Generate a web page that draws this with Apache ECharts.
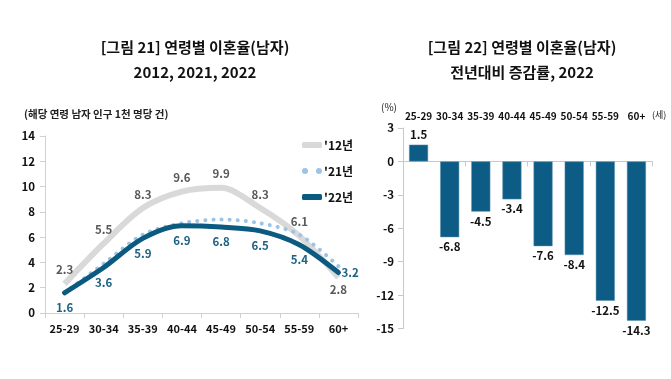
<!DOCTYPE html>
<html>
<head>
<meta charset="utf-8">
<script src="https://cdn.jsdelivr.net/npm/echarts@6/dist/echarts.min.js"></script>
<style>html,body{margin:0;padding:0;background:#fff;}#c{width:671px;height:379px;}</style>
</head>
<body>
<div id="c"></div>
<script>
const categories = ['25-29','30-34','35-39','40-44','45-49','50-54','55-59','60+'];
const rate2012 = [2.3, 5.5, 8.3, 9.6, 9.9, 8.3, 6.1, 2.8];
const rate2021 = [1.6, 3.9, 6.2, 7.1, 7.4, 7.1, 6.2, 3.7];
const rate2022 = [1.6, 3.6, 5.9, 6.9, 6.8, 6.5, 5.4, 3.2];
const change2022 = [1.5, -6.8, -4.5, -3.4, -7.6, -8.4, -12.5, -14.3];
const leftTicks = [0, 14, 2];
const rightTicks = [-15, 3, 3];

const F = '"Noto Sans CJK KR", "Noto Sans", sans-serif';
const chart = echarts.init(document.getElementById('c'));

const d12 = rate2012.map((v, i) => i === 7 ? {value: v, label: {position: 'bottom', distance: 6}} : v);
const d22 = rate2022.map((v, i) => i === 7 ? {value: v, label: {position: 'right', distance: 3}} : v);
const dBar = change2022.map(v => ({value: v, label: {position: v >= 0 ? 'top' : 'bottom'}}));

chart.setOption({
  animation: false,
  textStyle: {fontFamily: F},
  title: [
    {text: '[그림 21] 연령별 이혼율(남자)\n2012, 2021, 2022', left: 190, top: 30, textAlign: 'center',
     textStyle: {fontFamily: F, fontSize: 15, fontWeight: 'bold', color: '#111', lineHeight: 25}},
    {text: '[그림 22] 연령별 이혼율(남자)\n전년대비 증감률, 2022', left: 517, top: 30, textAlign: 'center',
     textStyle: {fontFamily: F, fontSize: 15, fontWeight: 'bold', color: '#111', lineHeight: 25}}
  ],
  graphic: [
    {type: 'text', left: 24, top: 109, style: {text: '(해당 연령 남자 인구 1천 명당 건)', font: 'bold 10.5px ' + F, fill: '#222'}},
    {type: 'text', left: 381, top: 102, style: {text: '(%)', font: '10px ' + F, fill: '#222'}},
    {type: 'text', left: 652, top: 110, style: {text: '(세)', font: '9px ' + F, fill: '#222'}}
  ],
  legend: {
    orient: 'vertical', left: 297, top: 134, itemGap: 14, itemWidth: 20, itemHeight: 6,
    textStyle: {fontFamily: F, fontSize: 12, fontWeight: 'bold', color: '#111', padding: [0, 0, 0, -3]},
    data: [
      {name: "'12년", icon: 'roundRect', itemStyle: {color: '#d9d9d9'}},
      {name: "'21년", icon: 'path://M0,3a3,3 0 1,0 6,0a3,3 0 1,0 -6,0z M14,3a3,3 0 1,0 6,0a3,3 0 1,0 -6,0z', itemStyle: {color: '#9dc3e6'}},
      {name: "'22년", icon: 'roundRect', itemStyle: {color: '#0b5a80'}}
    ]
  },
  grid: [
    {left: 45, top: 136, width: 313, height: 177},
    {left: 403, top: 128, width: 249, height: 200.6}
  ],
  xAxis: [
    {gridIndex: 0, type: 'category', data: categories,
     axisLine: {lineStyle: {color: '#d0d0d0'}}, axisTick: {show: true, lineStyle: {color: '#d0d0d0'}},
     splitLine: {show: false},
     axisLabel: {fontFamily: F, fontSize: 11, fontWeight: 'bold', color: '#111', margin: 10}},
    {gridIndex: 1, type: 'category', data: categories, position: 'top',
     axisLine: {show: false, onZero: false}, axisTick: {show: false},
     axisLabel: {interval: 0, fontFamily: F, fontSize: 10, fontWeight: 'bold', color: '#111', margin: 7}},
    {gridIndex: 1, type: 'category', data: categories,
     axisLine: {onZero: true, lineStyle: {color: '#c8c8c8'}}, axisTick: {show: true, lineStyle: {color: '#c8c8c8'}},
     axisLabel: {show: false}}
  ],
  yAxis: [
    {gridIndex: 0, type: 'value', min: leftTicks[0], max: leftTicks[1], interval: leftTicks[2],
     axisLine: {show: true, lineStyle: {color: '#d0d0d0'}}, axisTick: {show: true, lineStyle: {color: '#d0d0d0'}},
     splitLine: {show: false},
     axisLabel: {fontFamily: F, fontSize: 11.5, fontWeight: 'bold', color: '#111', margin: 10}},
    {gridIndex: 1, type: 'value', min: rightTicks[0], max: rightTicks[1], interval: rightTicks[2],
     axisLine: {show: true, lineStyle: {color: '#c8c8c8'}}, axisTick: {show: true, lineStyle: {color: '#c8c8c8'}},
     splitLine: {show: false},
     axisLabel: {fontFamily: F, fontSize: 11.5, fontWeight: 'bold', color: '#111', margin: 9}}
  ],
  series: [
    {name: "'12년", type: 'line', xAxisIndex: 0, yAxisIndex: 0, data: d12, smooth: 0.3, symbol: 'circle', symbolSize: 0.1, showSymbol: true,
     lineStyle: {color: '#d9d9d9', width: 6}, itemStyle: {color: '#d9d9d9'},
     label: {show: true, position: 'top', distance: 8, fontFamily: F, fontSize: 11.5, fontWeight: 'bold', color: '#595959'}},
    {name: "'21년", type: 'line', xAxisIndex: 0, yAxisIndex: 0, data: rate2021, smooth: 0.3, symbol: 'none',
     lineStyle: {color: '#9dc3e6', width: 4, type: [0.1, 8], cap: 'round'}, itemStyle: {color: '#9dc3e6'}},
    {name: "'22년", type: 'line', xAxisIndex: 0, yAxisIndex: 0, data: d22, smooth: 0.3, symbol: 'circle', symbolSize: 0.1, showSymbol: true,
     lineStyle: {color: '#0b5a80', width: 5, cap: 'round'}, itemStyle: {color: '#0b5a80'},
     label: {show: true, position: 'bottom', distance: 9, fontFamily: F, fontSize: 11.5, fontWeight: 'bold', color: '#1d6283'}},
    {name: 'change', type: 'bar', xAxisIndex: 1, yAxisIndex: 1, data: dBar, barWidth: 19,
     itemStyle: {color: '#0d5c85', borderColor: '#5d8fb0', borderWidth: 0.5},
     label: {show: true, distance: 4, fontFamily: F, fontSize: 11.5, fontWeight: 'bold', color: '#111'}}
  ]
});
</script>
</body>
</html>
